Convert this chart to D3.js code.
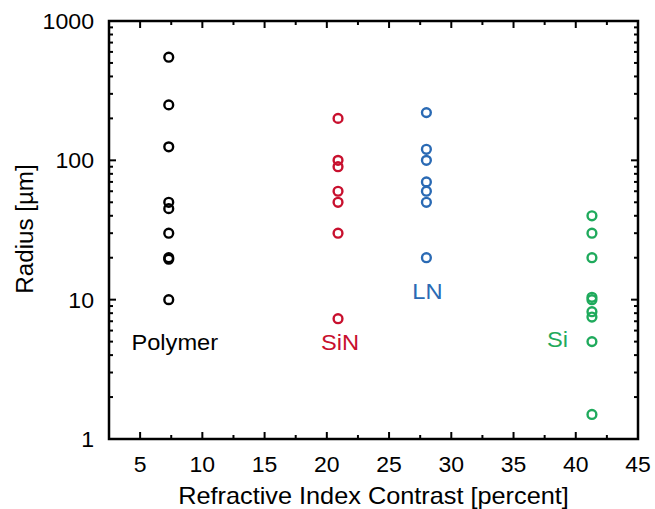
<!DOCTYPE html>
<meta charset="utf-8">
<style>
  body { margin: 0; background: #fff; }
  text { font-family: "Liberation Sans", Arial, sans-serif; }
</style>
<svg width="655" height="509"></svg>
<script src="https://cdn.jsdelivr.net/npm/d3@7"></script>
<script>

// data
var groups = ["Polymer", "SiN", "LN", "Si"];
var contrast = [7.3, 20.9, 28.0, 41.3];
var colors = ["#000000", "#c8102e", "#2a6ab4", "#1faa5c"];
var polymerRadius = [550, 250, 125, 50, 45, 30, 20, 19.5, 10];
var sinRadius = [200, 100, 90, 60, 50, 30, 7.3];
var lnRadius = [220, 120, 100, 70, 60, 50, 20];
var siRadius = [40, 30, 20, 10.4, 10, 8.2, 7.5, 5, 1.5];
var xTicks = [5, 10, 15, 20, 25, 30, 35, 40, 45];
var yTicks = [1, 10, 100, 1000];

var radii = [polymerRadius, sinRadius, lnRadius, siRadius];

var svg = d3.select("svg"),
	margin = {top: 21, right: 17, bottom: 70, left: 109},
	width = svg.attr("width") - margin.left - margin.right,
	height = svg.attr("height") - margin.top - margin.bottom;

var x = d3.scaleLinear().domain([2.5, 45]).range([0, width]),
	y = d3.scaleLog().domain([1, 1000]).range([height, 0]);

var g = svg.append("g")
	.attr("transform", "translate(" + margin.left + "," + margin.top + ")");

// text with the slightly wide look of the original font
function label(sel, px, py, str, size, stretch, anchor, rot) {
	return sel.append("text")
		.attr("transform", "translate(" + px + "," + py + ")" + (rot ? " rotate(" + rot + ")" : "") + " scale(" + stretch + ",1)")
		.attr("text-anchor", anchor)
		.style("font-size", size + "px")
		.text(str);
}

// minor ticks
var xMinor = d3.range(7.5, 45, 5);
var yMinor = [];
[1, 10, 100].forEach(function(d) { for (var k = 2; k < 10; k++) yMinor.push(d * k); });

function tickLines(sel, vals, scale, horiz, pos, len, dir) {
	sel.selectAll(null).data(vals).enter().append("line")
		.attr("x1", function(d) { return horiz ? scale(d) : pos; })
		.attr("x2", function(d) { return horiz ? scale(d) : pos + dir * len; })
		.attr("y1", function(d) { return horiz ? pos : scale(d); })
		.attr("y2", function(d) { return horiz ? pos + dir * len : scale(d); })
		.attr("stroke", "#000").attr("stroke-width", 2);
}

var ticks = g.append("g");
tickLines(ticks, xTicks, x, true, height, 7, -1);
tickLines(ticks, xMinor, x, true, height, 4, -1);
tickLines(ticks, xTicks, x, true, 0, 7, 1);
tickLines(ticks, xMinor, x, true, 0, 4, 1);
tickLines(ticks, yTicks, y, false, 0, 7, 1);
tickLines(ticks, yMinor, y, false, 0, 4, 1);
tickLines(ticks, yTicks, y, false, width, 7, -1);
tickLines(ticks, yMinor, y, false, width, 4, -1);

// frame
g.append("rect")
	.attr("width", width).attr("height", height)
	.attr("fill", "none").attr("stroke", "#000").attr("stroke-width", 2.5);

// tick labels
xTicks.forEach(function(d) {
	label(g, x(d), height + 33, d, 21.5, 1.07, "middle");
});
yTicks.forEach(function(d) {
	label(g, -15, y(d) + 8, d, 22, 1.05, "end");
});

// axis titles
label(svg, margin.left + width / 2, 504, "Refractive Index Contrast [percent]", 23, 1.1, "middle");
label(svg, 33, margin.top + height / 2 - 1, "Radius [\u00b5m]", 23, 1.05, "middle", -90);

// points
groups.forEach(function(name, i) {
	g.append("g").selectAll("circle")
		.data(radii[i]).enter().append("circle")
		.attr("cx", x(contrast[i]))
		.attr("cy", function(d) { return y(d); })
		.attr("r", 4.4)
		.attr("fill", "none")
		.attr("stroke", colors[i])
		.attr("stroke-width", 2.4);
});

// group labels
var labelDx = [6, 2, 1, -24],
	labelAnchor = ["middle", "middle", "middle", "end"],
	labelAt = [4.35, 4.35, 10.1, 4.6];

groups.forEach(function(name, i) {
	label(g, x(contrast[i]) + labelDx[i], y(labelAt[i]), name, 21.5, 1.1, labelAnchor[i])
		.attr("fill", colors[i]);
});

</script>
